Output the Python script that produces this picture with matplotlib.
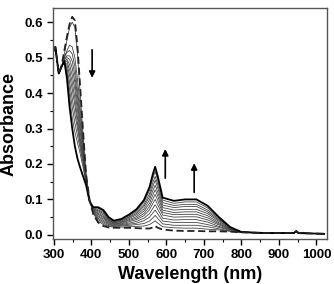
import matplotlib
matplotlib.use("Agg")
import matplotlib.pyplot as plt
from matplotlib.ticker import MultipleLocator

plt.rcParams['font.family'] = ['Liberation Sans', 'DejaVu Sans']
plt.rcParams['font.weight'] = 'bold'

wavelength = [300, 304, 313, 321, 328, 335, 342, 349, 356, 363, 370, 378, 386, 395, 405,
              418, 432, 446, 460, 480, 500, 520, 540, 555, 564, 570, 577, 590, 620, 650,
              680, 710, 740, 770, 800, 870, 940, 946, 952, 1020]

# first spectrum (dashed)
initial = [0.52, 0.53, 0.455, 0.48, 0.52, 0.56, 0.595, 0.615, 0.605, 0.53, 0.42, 0.29, 0.17, 0.10, 0.058,
           0.035, 0.025, 0.021, 0.020, 0.020, 0.020, 0.019, 0.018, 0.018, 0.021, 0.025, 0.020, 0.015, 0.012, 0.011,
           0.011, 0.010, 0.010, 0.009, 0.007, 0.005, 0.005, 0.010, 0.005, 0.003]

# intermediate spectra (thin grey)
middle = [
    [0.52, 0.53, 0.455, 0.475, 0.51, 0.55, 0.585, 0.60, 0.585, 0.51, 0.40, 0.28, 0.168, 0.099, 0.060,
     0.039, 0.029, 0.024, 0.022, 0.022, 0.023, 0.024, 0.025, 0.029, 0.035, 0.040, 0.033, 0.023, 0.020, 0.019,
     0.019, 0.016, 0.014, 0.010, 0.007, 0.005, 0.005, 0.010, 0.005, 0.003],
    [0.52, 0.53, 0.455, 0.475, 0.50, 0.52, 0.535, 0.53, 0.50, 0.44, 0.36, 0.265, 0.165, 0.099, 0.062,
     0.043, 0.033, 0.026, 0.024, 0.025, 0.027, 0.029, 0.032, 0.039, 0.048, 0.055, 0.046, 0.031, 0.027, 0.027,
     0.027, 0.023, 0.017, 0.011, 0.007, 0.005, 0.005, 0.010, 0.005, 0.003],
    [0.52, 0.53, 0.455, 0.475, 0.50, 0.515, 0.52, 0.51, 0.475, 0.41, 0.34, 0.255, 0.163, 0.098, 0.064,
     0.047, 0.037, 0.029, 0.025, 0.027, 0.030, 0.033, 0.040, 0.050, 0.062, 0.070, 0.059, 0.039, 0.035, 0.035,
     0.035, 0.029, 0.021, 0.013, 0.007, 0.005, 0.005, 0.010, 0.005, 0.003],
    [0.52, 0.53, 0.455, 0.475, 0.495, 0.505, 0.505, 0.49, 0.45, 0.39, 0.32, 0.245, 0.161, 0.098, 0.066,
     0.051, 0.041, 0.031, 0.027, 0.029, 0.033, 0.038, 0.047, 0.060, 0.075, 0.085, 0.072, 0.047, 0.042, 0.043,
     0.043, 0.036, 0.024, 0.014, 0.007, 0.005, 0.005, 0.010, 0.005, 0.003],
    [0.52, 0.53, 0.455, 0.475, 0.495, 0.50, 0.495, 0.47, 0.43, 0.37, 0.305, 0.237, 0.159, 0.097, 0.068,
     0.054, 0.045, 0.034, 0.029, 0.031, 0.037, 0.043, 0.054, 0.071, 0.089, 0.100, 0.085, 0.056, 0.050, 0.051,
     0.051, 0.042, 0.028, 0.015, 0.007, 0.005, 0.005, 0.010, 0.005, 0.003],
    [0.52, 0.53, 0.455, 0.475, 0.49, 0.495, 0.48, 0.45, 0.41, 0.35, 0.29, 0.23, 0.157, 0.097, 0.070,
     0.058, 0.049, 0.036, 0.031, 0.033, 0.040, 0.047, 0.060, 0.080, 0.101, 0.114, 0.097, 0.063, 0.057, 0.058,
     0.058, 0.048, 0.031, 0.016, 0.008, 0.005, 0.005, 0.010, 0.005, 0.003],
    [0.52, 0.53, 0.455, 0.475, 0.49, 0.49, 0.465, 0.43, 0.385, 0.33, 0.275, 0.222, 0.155, 0.096, 0.071,
     0.061, 0.052, 0.039, 0.032, 0.035, 0.043, 0.051, 0.067, 0.089, 0.113, 0.127, 0.109, 0.070, 0.063, 0.065,
     0.065, 0.054, 0.034, 0.017, 0.008, 0.005, 0.005, 0.010, 0.005, 0.003],
    [0.52, 0.53, 0.455, 0.475, 0.49, 0.48, 0.45, 0.41, 0.365, 0.315, 0.265, 0.215, 0.153, 0.096, 0.073,
     0.065, 0.056, 0.041, 0.034, 0.037, 0.046, 0.056, 0.073, 0.099, 0.125, 0.140, 0.120, 0.077, 0.070, 0.072,
     0.072, 0.060, 0.038, 0.018, 0.008, 0.005, 0.005, 0.010, 0.005, 0.003],
    [0.52, 0.53, 0.455, 0.475, 0.49, 0.47, 0.43, 0.385, 0.34, 0.30, 0.255, 0.208, 0.151, 0.096, 0.074,
     0.068, 0.060, 0.043, 0.035, 0.039, 0.049, 0.060, 0.080, 0.108, 0.137, 0.154, 0.132, 0.084, 0.077, 0.080,
     0.080, 0.065, 0.041, 0.019, 0.008, 0.005, 0.005, 0.010, 0.005, 0.003],
    [0.52, 0.53, 0.455, 0.475, 0.49, 0.46, 0.41, 0.36, 0.315, 0.28, 0.245, 0.20, 0.148, 0.095, 0.076,
     0.071, 0.063, 0.045, 0.037, 0.041, 0.051, 0.064, 0.085, 0.116, 0.148, 0.165, 0.142, 0.091, 0.083, 0.086,
     0.086, 0.070, 0.044, 0.020, 0.008, 0.005, 0.005, 0.010, 0.005, 0.003],
    [0.52, 0.53, 0.455, 0.475, 0.49, 0.45, 0.39, 0.33, 0.29, 0.26, 0.23, 0.19, 0.145, 0.095, 0.077,
     0.075, 0.066, 0.048, 0.038, 0.043, 0.054, 0.068, 0.092, 0.126, 0.160, 0.179, 0.153, 0.098, 0.089, 0.093,
     0.093, 0.076, 0.047, 0.021, 0.008, 0.005, 0.005, 0.010, 0.005, 0.003],
]

# last spectrum (thick black)
final = [0.52, 0.53, 0.455, 0.475, 0.49, 0.44, 0.36, 0.30, 0.25, 0.215, 0.19, 0.165, 0.14, 0.095, 0.078,
         0.078, 0.070, 0.050, 0.040, 0.045, 0.057, 0.072, 0.098, 0.135, 0.172, 0.192, 0.165, 0.105, 0.096, 0.100,
         0.100, 0.082, 0.050, 0.022, 0.008, 0.005, 0.005, 0.011, 0.005, 0.003]

fig = plt.figure(figsize=(3.34, 2.84), dpi=100)
ax = fig.add_axes([0.159, 0.158, 0.82, 0.814])

for spec in middle:
    ax.plot(wavelength, spec, color='#444444', lw=0.6)
ax.plot(wavelength, final, color='black', lw=1.3)
ax.plot(wavelength, initial, color='#222222', lw=1.3, dashes=(4, 2))

# arrows showing the direction of change
arrow = dict(arrowstyle='-|>', color='black', lw=1.2, mutation_scale=9)
ax.annotate('', xy=(402, 0.435), xytext=(402, 0.53), arrowprops=arrow)
ax.annotate('', xy=(597, 0.25), xytext=(597, 0.152), arrowprops=arrow)
ax.annotate('', xy=(674, 0.21), xytext=(674, 0.112), arrowprops=arrow)

ax.set_xlim(298, 1028)
ax.set_ylim(-0.012, 0.64)
ax.xaxis.set_major_locator(MultipleLocator(100))
ax.xaxis.set_minor_locator(MultipleLocator(50))
ax.yaxis.set_major_locator(MultipleLocator(0.1))
ax.yaxis.set_minor_locator(MultipleLocator(0.05))
ax.tick_params(which='major', direction='out', length=4, width=1, labelsize=9.5, pad=3)
ax.tick_params(which='minor', direction='out', length=2, width=0.8)
for s in ax.spines.values():
    s.set_color('#555555')
    s.set_linewidth(1)

ax.set_xlabel('Wavelength (nm)', fontsize=13, fontweight='bold', labelpad=4)
ax.set_ylabel('Absorbance', fontsize=13, fontweight='bold', labelpad=5)

fig.savefig('out.png', dpi=100)
